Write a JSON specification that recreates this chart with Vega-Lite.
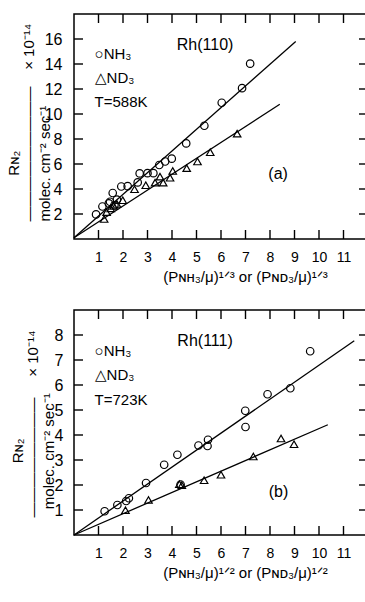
{
  "$schema": "https://vega.github.io/schema/vega-lite/v6.json",
  "padding": {"left": 5, "top": 13, "right": 0, "bottom": 0},
  "spacing": 24,
  "background": "white",
  "datasets": {
    "xticks": [{"v": 1}, {"v": 2}, {"v": 3}, {"v": 4}, {"v": 5}, {"v": 6}, {"v": 7}, {"v": 8}, {"v": 9}, {"v": 10}, {"v": 11}],
    "a_yticks": [{"v": 2}, {"v": 4}, {"v": 6}, {"v": 8}, {"v": 10}, {"v": 12}, {"v": 14}, {"v": 16}],
    "b_yticks": [{"v": 1}, {"v": 2}, {"v": 3}, {"v": 4}, {"v": 5}, {"v": 6}, {"v": 7}, {"v": 8}],
    "a_pts": [
      {"s": "NH3", "x": 0.90, "y": 1.97}, {"s": "NH3", "x": 1.16, "y": 2.6}, {"s": "NH3", "x": 1.42, "y": 2.85},
      {"s": "NH3", "x": 1.47, "y": 2.98}, {"s": "NH3", "x": 1.58, "y": 3.68}, {"s": "NH3", "x": 1.65, "y": 2.7},
      {"s": "NH3", "x": 1.75, "y": 3.15}, {"s": "NH3", "x": 1.93, "y": 4.2}, {"s": "NH3", "x": 2.19, "y": 4.23},
      {"s": "NH3", "x": 2.6, "y": 4.53}, {"s": "NH3", "x": 2.68, "y": 5.25}, {"s": "NH3", "x": 3.0, "y": 5.27},
      {"s": "NH3", "x": 3.24, "y": 5.27}, {"s": "NH3", "x": 3.48, "y": 5.92}, {"s": "NH3", "x": 3.72, "y": 6.2},
      {"s": "NH3", "x": 3.99, "y": 6.43}, {"s": "NH3", "x": 4.58, "y": 7.65}, {"s": "NH3", "x": 5.32, "y": 9.06},
      {"s": "NH3", "x": 6.03, "y": 10.9}, {"s": "NH3", "x": 6.86, "y": 12.07}, {"s": "NH3", "x": 7.19, "y": 14.03},
      {"s": "ND3", "x": 1.23, "y": 1.6}, {"s": "ND3", "x": 1.33, "y": 2.15}, {"s": "ND3", "x": 1.5, "y": 2.45},
      {"s": "ND3", "x": 1.62, "y": 2.65}, {"s": "ND3", "x": 1.75, "y": 2.8}, {"s": "ND3", "x": 1.99, "y": 3.1},
      {"s": "ND3", "x": 2.47, "y": 3.98}, {"s": "ND3", "x": 2.93, "y": 4.3}, {"s": "ND3", "x": 3.31, "y": 4.51},
      {"s": "ND3", "x": 3.51, "y": 4.99}, {"s": "ND3", "x": 3.64, "y": 4.51}, {"s": "ND3", "x": 3.92, "y": 4.9},
      {"s": "ND3", "x": 4.03, "y": 5.44}, {"s": "ND3", "x": 4.6, "y": 5.67}, {"s": "ND3", "x": 5.04, "y": 6.2},
      {"s": "ND3", "x": 5.56, "y": 6.94}, {"s": "ND3", "x": 6.66, "y": 8.43}
    ],
    "a_lines": [
      {"s": "NH3", "x": 0, "y": 0.1}, {"s": "NH3", "x": 9.05, "y": 15.8},
      {"s": "ND3", "x": 0, "y": 0.1}, {"s": "ND3", "x": 8.4, "y": 10.78}
    ],
    "a_text_left": [
      {"t": "○NH₃", "x": 0.84, "y": 14.8},
      {"t": "△ND₃", "x": 0.84, "y": 12.9},
      {"t": "T=588K", "x": 0.84, "y": 11.0}
    ],
    "a_text_center": [
      {"t": "Rh(110)", "x": 5.35, "y": 15.5},
      {"t": "(a)", "x": 8.33, "y": 5.2}
    ],
    "b_pts": [
      {"s": "NH3", "x": 1.25, "y": 0.95}, {"s": "NH3", "x": 1.77, "y": 1.2}, {"s": "NH3", "x": 2.13, "y": 1.36},
      {"s": "NH3", "x": 2.24, "y": 1.47}, {"s": "NH3", "x": 2.94, "y": 2.08}, {"s": "NH3", "x": 3.68, "y": 2.81},
      {"s": "NH3", "x": 4.22, "y": 3.21}, {"s": "NH3", "x": 4.35, "y": 2.02}, {"s": "NH3", "x": 5.08, "y": 3.58},
      {"s": "NH3", "x": 5.45, "y": 3.56}, {"s": "NH3", "x": 5.47, "y": 3.81}, {"s": "NH3", "x": 6.99, "y": 4.97},
      {"s": "NH3", "x": 7.0, "y": 4.32}, {"s": "NH3", "x": 7.9, "y": 5.63}, {"s": "NH3", "x": 8.83, "y": 5.87},
      {"s": "NH3", "x": 9.64, "y": 7.35},
      {"s": "ND3", "x": 2.1, "y": 0.99}, {"s": "ND3", "x": 3.04, "y": 1.4}, {"s": "ND3", "x": 4.3, "y": 2.03},
      {"s": "ND3", "x": 4.4, "y": 1.99}, {"s": "ND3", "x": 5.31, "y": 2.19}, {"s": "ND3", "x": 6.0, "y": 2.41},
      {"s": "ND3", "x": 7.32, "y": 3.14}, {"s": "ND3", "x": 8.45, "y": 3.86}, {"s": "ND3", "x": 8.98, "y": 3.63}
    ],
    "b_lines": [
      {"s": "NH3", "x": 0, "y": 0}, {"s": "NH3", "x": 11.44, "y": 7.77},
      {"s": "ND3", "x": 0, "y": 0}, {"s": "ND3", "x": 10.36, "y": 4.41}
    ],
    "b_text_left": [
      {"t": "○NH₃", "x": 0.84, "y": 7.37},
      {"t": "△ND₃", "x": 0.84, "y": 6.4},
      {"t": "T=723K", "x": 0.84, "y": 5.39}
    ],
    "b_text_center": [
      {"t": "Rh(111)", "x": 5.35, "y": 7.76},
      {"t": "(b)", "x": 8.35, "y": 1.73}
    ]
  },
  "vconcat": [
    {
      "width": 294,
      "height": 225,
      "resolve": {"axis": {"x": "independent", "y": "independent"}},
      "layer": [
        {
          "data": {"name": "a_lines"},
          "mark": {"type": "line", "color": "black", "strokeWidth": 1.3},
          "encoding": {
            "x": {"field": "x", "type": "quantitative", "scale": {"domain": [0, 12], "nice": false, "zero": false},
              "axis": {"orient": "bottom", "ticks": false, "labelOverlap": false, "values": [1,2,3,4,5,6,7,8,9,10,11], "labelFontSize": 14, "labelPadding": 11,
                "title": "(Pɴʜ₃/μ)¹ᐟ³ or (Pɴᴅ₃/μ)¹ᐟ³", "titleX": 171, "titleY": 30, "titleBaseline": "top", "titleAlign": "center"}},
            "y": {"field": "y", "type": "quantitative", "scale": {"domain": [0, 18], "nice": false, "zero": false},
              "axis": {"orient": "left", "ticks": false, "labelOverlap": false, "values": [2,4,6,8,10,12,14,16], "labelPadding": 12,
                "title": ["\u200b\u00a0\u00a0\u00a0\u00a0\u00a0\u00a0\u00a0\u00a0\u00a0\u00a0\u00a0Rɴ₂", "—————————\u00a0\u00a0\u00a0\u00a0× 10⁻¹⁴", "molec. cm⁻² sec⁻¹"],
                "titleX": -68, "titleY": 207, "titleAngle": -90, "titleAlign": "left", "titleBaseline": "top", "titleLineHeight": 15.5}},
            "detail": {"field": "s"}
          }
        },
        {
          "data": {"name": "xticks"},
          "mark": {"type": "point", "shape": "stroke", "angle": 90, "filled": false, "color": "black", "strokeWidth": 1.4, "size": 324, "clip": true, "opacity": 1},
          "encoding": {"x": {"field": "v", "type": "quantitative", "axis": null}, "y": {"datum": 0, "axis": null}}
        },
        {
          "data": {"name": "xticks"},
          "mark": {"type": "point", "shape": "stroke", "angle": 90, "filled": false, "color": "black", "strokeWidth": 1.4, "size": 324, "clip": true, "opacity": 1},
          "encoding": {"x": {"field": "v", "type": "quantitative", "axis": null}, "y": {"datum": 18, "axis": null}}
        },
        {
          "data": {"name": "a_yticks"},
          "mark": {"type": "point", "shape": "stroke", "filled": false, "color": "black", "strokeWidth": 1.4, "size": 324, "clip": true, "opacity": 1},
          "encoding": {"y": {"field": "v", "type": "quantitative", "axis": null}, "x": {"datum": 0, "axis": null}}
        },
        {
          "data": {"name": "a_yticks"},
          "mark": {"type": "point", "shape": "stroke", "filled": false, "color": "black", "strokeWidth": 1.4, "size": 324, "clip": true, "opacity": 1},
          "encoding": {"y": {"field": "v", "type": "quantitative", "axis": null}, "x": {"datum": 12, "axis": null}}
        },
        {
          "data": {"name": "a_pts"},
          "mark": {"type": "point", "filled": false, "color": "black", "strokeWidth": 1.2, "size": 56, "opacity": 1},
          "encoding": {
            "x": {"field": "x", "type": "quantitative", "axis": null},
            "y": {"field": "y", "type": "quantitative", "axis": null},
            "shape": {"field": "s", "type": "nominal", "scale": {"domain": ["NH3", "ND3"], "range": ["circle", "triangle-up"]}, "legend": null}
          }
        },
        {
          "data": {"name": "a_text_left"},
          "mark": {"type": "text", "align": "left", "baseline": "middle", "fontSize": 15, "font": "Liberation Sans", "color": "black"},
          "encoding": {
            "x": {"field": "x", "type": "quantitative", "axis": null},
            "y": {"field": "y", "type": "quantitative", "axis": null},
            "text": {"field": "t"}
          }
        },
        {
          "data": {"name": "a_text_center"},
          "mark": {"type": "text", "align": "center", "baseline": "middle", "fontSize": 16, "font": "Liberation Sans", "color": "black"},
          "encoding": {
            "x": {"field": "x", "type": "quantitative", "axis": null},
            "y": {"field": "y", "type": "quantitative", "axis": null},
            "text": {"field": "t"}
          }
        }
      ]
    },
    {
      "width": 294,
      "height": 225,
      "resolve": {"axis": {"x": "independent", "y": "independent"}},
      "layer": [
        {
          "data": {"name": "b_lines"},
          "mark": {"type": "line", "color": "black", "strokeWidth": 1.3},
          "encoding": {
            "x": {"field": "x", "type": "quantitative", "scale": {"domain": [0, 12], "nice": false, "zero": false},
              "axis": {"orient": "bottom", "ticks": false, "labelOverlap": false, "values": [1,2,3,4,5,6,7,8,9,10,11], "labelFontSize": 14, "labelPadding": 11,
                "title": "(Pɴʜ₃/μ)¹ᐟ² or (Pɴᴅ₃/μ)¹ᐟ²", "titleX": 171, "titleY": 30, "titleBaseline": "top", "titleAlign": "center"}},
            "y": {"field": "y", "type": "quantitative", "scale": {"domain": [0, 9], "nice": false, "zero": false},
              "axis": {"orient": "left", "ticks": false, "labelOverlap": false, "values": [1,2,3,4,5,6,7,8], "labelPadding": 11,
                "title": ["\u200b\u00a0\u00a0\u00a0\u00a0\u00a0\u00a0\u00a0\u00a0\u00a0\u00a0\u00a0\u00a0\u00a0Rɴ₂", "————————\u00a0\u00a0\u00a0\u00a0\u00a0× 10⁻¹⁴", "\u200b\u00a0\u00a0molec. cm⁻² sec⁻¹"],
                "titleX": -64, "titleY": 207, "titleAngle": -90, "titleAlign": "left", "titleBaseline": "top", "titleLineHeight": 15.5}},
            "detail": {"field": "s"}
          }
        },
        {
          "data": {"name": "xticks"},
          "mark": {"type": "point", "shape": "stroke", "angle": 90, "filled": false, "color": "black", "strokeWidth": 1.4, "size": 324, "clip": true, "opacity": 1},
          "encoding": {"x": {"field": "v", "type": "quantitative", "axis": null}, "y": {"datum": 0, "axis": null}}
        },
        {
          "data": {"name": "xticks"},
          "mark": {"type": "point", "shape": "stroke", "angle": 90, "filled": false, "color": "black", "strokeWidth": 1.4, "size": 324, "clip": true, "opacity": 1},
          "encoding": {"x": {"field": "v", "type": "quantitative", "axis": null}, "y": {"datum": 9, "axis": null}}
        },
        {
          "data": {"name": "b_yticks"},
          "mark": {"type": "point", "shape": "stroke", "filled": false, "color": "black", "strokeWidth": 1.4, "size": 324, "clip": true, "opacity": 1},
          "encoding": {"y": {"field": "v", "type": "quantitative", "axis": null}, "x": {"datum": 0, "axis": null}}
        },
        {
          "data": {"name": "b_yticks"},
          "mark": {"type": "point", "shape": "stroke", "filled": false, "color": "black", "strokeWidth": 1.4, "size": 324, "clip": true, "opacity": 1},
          "encoding": {"y": {"field": "v", "type": "quantitative", "axis": null}, "x": {"datum": 12, "axis": null}}
        },
        {
          "data": {"name": "b_pts"},
          "mark": {"type": "point", "filled": false, "color": "black", "strokeWidth": 1.2, "size": 56, "opacity": 1},
          "encoding": {
            "x": {"field": "x", "type": "quantitative", "axis": null},
            "y": {"field": "y", "type": "quantitative", "axis": null},
            "shape": {"field": "s", "type": "nominal", "scale": {"domain": ["NH3", "ND3"], "range": ["circle", "triangle-up"]}, "legend": null}
          }
        },
        {
          "data": {"name": "b_text_left"},
          "mark": {"type": "text", "align": "left", "baseline": "middle", "fontSize": 15, "font": "Liberation Sans", "color": "black"},
          "encoding": {
            "x": {"field": "x", "type": "quantitative", "axis": null},
            "y": {"field": "y", "type": "quantitative", "axis": null},
            "text": {"field": "t"}
          }
        },
        {
          "data": {"name": "b_text_center"},
          "mark": {"type": "text", "align": "center", "baseline": "middle", "fontSize": 16, "font": "Liberation Sans", "color": "black"},
          "encoding": {
            "x": {"field": "x", "type": "quantitative", "axis": null},
            "y": {"field": "y", "type": "quantitative", "axis": null},
            "text": {"field": "t"}
          }
        }
      ]
    }
  ],
  "config": {
    "view": {"stroke": "black", "strokeWidth": 1.5},
    "axis": {
      "domain": false, "grid": false,
      "labelColor": "black", "labelFont": "Liberation Sans", "labelFontSize": 16,
      "titleColor": "black", "titleFont": "Liberation Sans", "titleFontSize": 15, "titleFontWeight": "normal"
    }
  }
}
